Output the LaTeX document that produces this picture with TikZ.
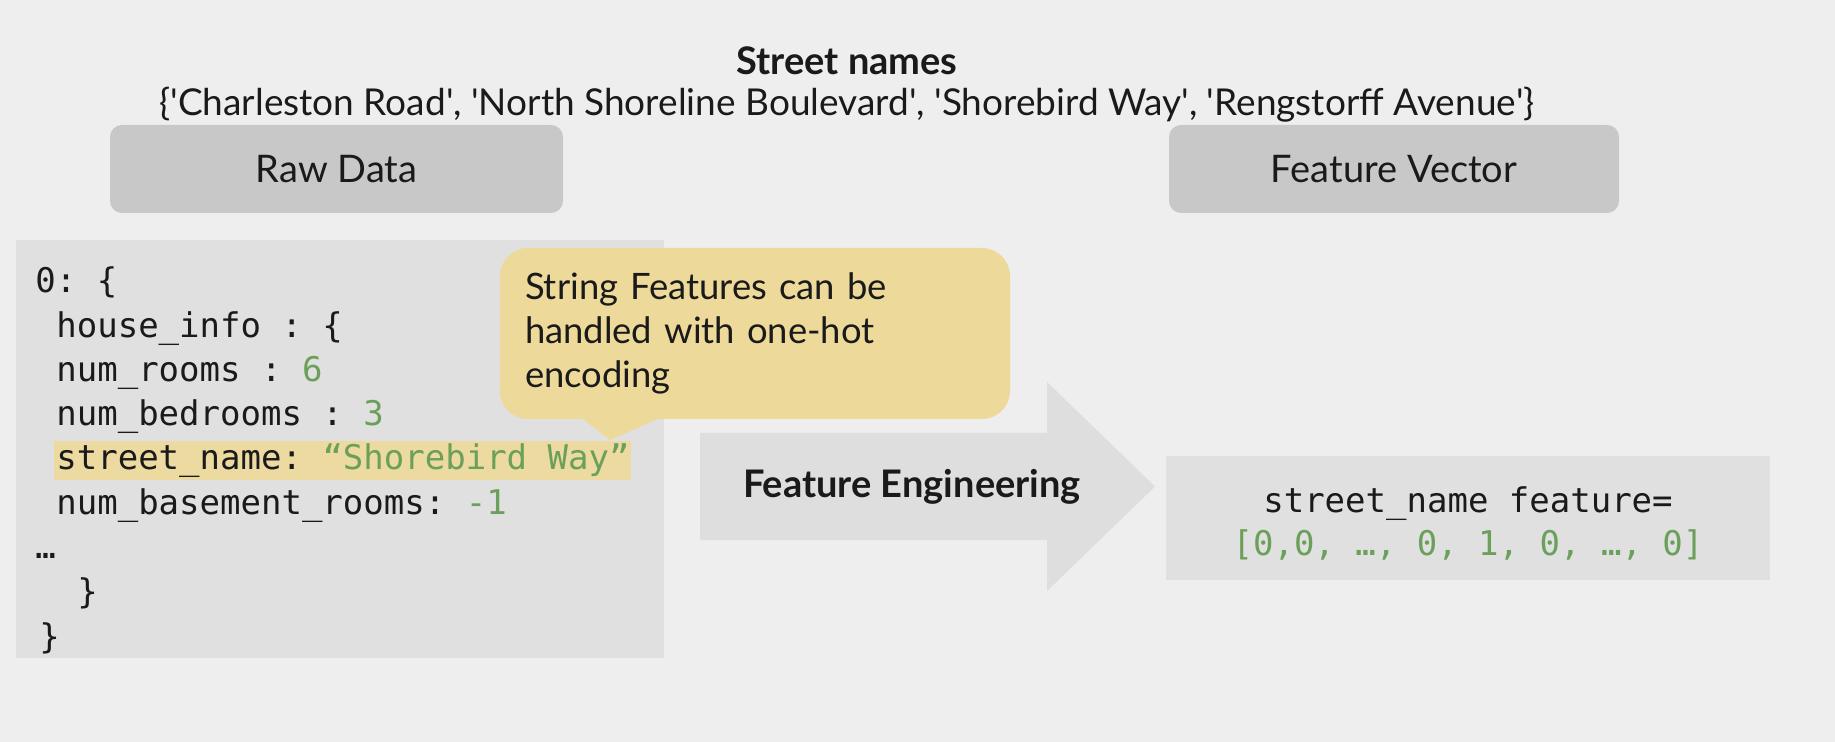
\documentclass[tikz,border=0pt]{standalone}
\usepackage{fontspec}
\setmainfont{Lato}
\setmonofont{DejaVu Sans Mono}
\usetikzlibrary{positioning}
\definecolor{bgcol}{RGB}{238,238,238}
\definecolor{tabgray}{RGB}{200,200,200}
\definecolor{codegray}{RGB}{224,224,224}
\definecolor{notecol}{RGB}{237,217,154}
\definecolor{markcol}{RGB}{236,218,160}
\definecolor{valgreen}{RGB}{106,160,90}
\definecolor{arrowgray}{RGB}{222,222,222}
\definecolor{ink}{RGB}{26,26,26}
\newcommand{\sq}{\textquotesingle}
\tikzset{
    every node/.style={text=ink}, % dark slide text
    plain/.style={font=\fontsize{19}{23}\selectfont}, % ordinary slide text
    heading/.style={font=\bfseries\fontsize{19}{23}\selectfont}, % bold slide text
    tab/.style={fill=tabgray, rounded corners=6pt, minimum width=226.5pt, minimum height=44pt, plain}, % grey header boxes
    codebox/.style={fill=codegray, inner sep=0pt}, % boxes behind the code
    codeline/.style={anchor=west, inner sep=0pt, text height=12pt, text depth=3pt, font=\ttfamily\fontsize{17}{21.5}\selectfont}, % one line of code
    note/.style={fill=notecol, rounded corners=14pt, minimum width=255pt, minimum height=85.5pt, text width=230pt, align=left, font=\fontsize{18.2}{22}\selectfont}, % yellow call-out
}
\begin{document}
\begin{tikzpicture}[x=0.5pt, y=-0.5pt]
\fill[bgcol] (0,0) rectangle (1835,742);
\useasboundingbox (0,0) rectangle (1835,742);
\node[heading] (title) at (847,61) {Street names};
\node[plain, font=\fontsize{18.5}{23}\selectfont] (names) at (847,105) {\{\sq Charleston Road\sq, \sq North Shoreline Boulevard\sq, \sq Shorebird Way\sq, \sq Rengstorff Avenue\sq\}};
\node[tab] (raw) at (336.5,169) {Raw Data};
\node[tab, minimum width=225pt] (vec) at (1394,169) {Feature Vector};
\node[codebox, minimum width=324pt, minimum height=209pt] (rawcode) at (340,449) {};
\fill[markcol] (54,441) rectangle (631,480);
\node[codeline] (l0) at (35,284) {0: \{};
\node[codeline] (l1) at (56,328.5) {house\_info : \{};
\node[codeline] (l2) at (56,373) {num\_rooms : \textcolor{valgreen}{6}};
\node[codeline] (l3) at (56,417) {num\_bedrooms : \textcolor{valgreen}{3}};
\node[codeline] (l4) at (56,461) {street\_name: \textcolor{valgreen}{“Shorebird Way”}};
\node[codeline] (l5) at (56,505.5) {num\_basement\_rooms: \textcolor{valgreen}{-1}};
\node[codeline] (l6) at (35,550) {…};
\node[codeline] (l7) at (77,594.5) {\}};
\node[codeline] (l8) at (39,639) {\}};
\fill[arrowgray] (700,433) -- (1047,433) -- (1047,382) -- (1155,486.5) -- (1047,591) -- (1047,540) -- (700,540) -- cycle;
\node[heading] (fe) at (912,487) {Feature Engineering};
\node[note] (hint) at (755,333.5) {String Features can be\\handled with one-hot\\encoding};
\fill[notecol] (582,418) -- (610,440) -- (660,418) -- cycle;
\node[codebox, minimum width=302pt, minimum height=62pt] (vecbox) at (1468,518) {};
\node[align=center, font=\ttfamily\fontsize{17}{21.5}\selectfont] (vectext) at (1468,523) {street\_name feature=\\\textcolor{valgreen}{[0,0, …, 0, 1, 0, …, 0]}};
\end{tikzpicture}
\end{document}
